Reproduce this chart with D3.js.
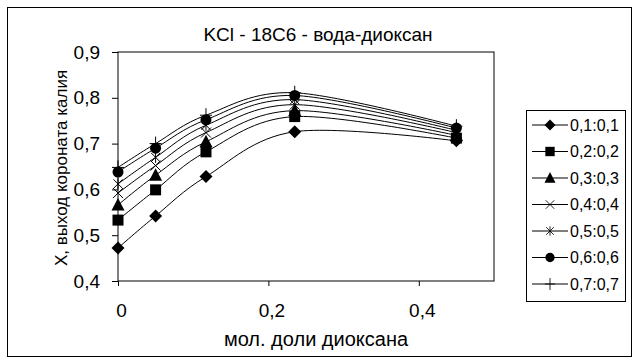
<!DOCTYPE html>
<meta charset="utf-8">
<title>KCl - 18C6</title>
<style>
	body { margin: 0; background: #fff; }
	svg { display: block; font-family: "Liberation Sans", Arial, sans-serif; }
</style>
<svg id="chart"></svg>
<script src="https://cdn.jsdelivr.net/npm/d3@7"></script>
<script>
// mole fraction of dioxane
var xValues = [0, 0.05, 0.117, 0.235, 0.45];
var seriesNames = ["0,1:0,1", "0,2:0,2", "0,3:0,3", "0,4:0,4", "0,5:0,5", "0,6:0,6", "0,7:0,7"];
var s1 = [0.472, 0.542, 0.628, 0.726, 0.706];
var s2 = [0.533, 0.599, 0.682, 0.759, 0.712];
var s3 = [0.566, 0.631, 0.704, 0.772, 0.718];
var s4 = [0.592, 0.652, 0.724, 0.785, 0.724];
var s5 = [0.612, 0.670, 0.740, 0.796, 0.729];
var s6 = [0.638, 0.690, 0.752, 0.805, 0.734];
var s7 = [0.648, 0.700, 0.762, 0.811, 0.738];
var seriesValues = [s1, s2, s3, s4, s5, s6, s7];
var markerTypes = ["diamond", "square", "triangle", "cross", "star", "circle", "plus"];
var xTicks = [0, 0.2, 0.4];
var yTicks = [0.4, 0.5, 0.6, 0.7, 0.8, 0.9];

var width = 638, height = 362;
var svg = d3.select("#chart").attr("width", width).attr("height", height);

var fmt = function(d) { return String(d).replace(".", ","); };

// outer frame
svg.append("rect")
	.attr("x", 7.5).attr("y", 7.5)
	.attr("width", 624).attr("height", 349)
	.attr("fill", "#fff").attr("stroke", "#000").attr("stroke-width", 1);

var x = d3.scaleLinear().domain([0, 0.5]).range([118, 494]);
var y = d3.scaleLinear().domain([0.4, 0.9]).range([281, 52]);

// plot box
svg.append("rect")
	.attr("x", x(0)).attr("y", y(0.9))
	.attr("width", x(0.5) - x(0)).attr("height", y(0.4) - y(0.9))
	.attr("fill", "none").attr("stroke", "#000");

var yAxis = svg.append("g")
	.attr("transform", "translate(" + x(0) + ",0)")
	.call(d3.axisLeft(y).tickValues(yTicks).tickFormat(fmt).tickSize(6).tickPadding(12));
var xAxis = svg.append("g")
	.attr("transform", "translate(0," + y(0.4) + ")")
	.call(d3.axisBottom(x).tickValues(xTicks).tickFormat(fmt).tickSize(5).tickPadding(18));
[xAxis, yAxis].forEach(function(a) {
	a.select(".domain").remove();
	a.selectAll("line").attr("stroke", "#000");
	a.selectAll("text").attr("fill", "#000").attr("font-size", 19).attr("font-family", "Liberation Sans, Arial, sans-serif");
});
xAxis.selectAll("text").attr("dx", 3);

// titles
svg.append("text")
	.attr("x", 318).attr("y", 41)
	.attr("text-anchor", "middle").attr("font-size", 19)
	.text("KCl - 18C6 - вода-диоксан");
svg.append("text")
	.attr("x", 316).attr("y", 346)
	.attr("text-anchor", "middle").attr("font-size", 20)
	.text("мол. доли диоксана");
svg.append("text")
	.attr("transform", "translate(67,168) rotate(-90)")
	.attr("text-anchor", "middle").attr("font-size", 17)
	.text("Х, выход короната калия");

function drawMarker(g, type) {
	if (type === "diamond") {
		g.append("path").attr("d", "M0,-6.5L6.5,0L0,6.5L-6.5,0Z").attr("fill", "#000");
	} else if (type === "square") {
		g.append("rect").attr("x", -5.5).attr("y", -5.5).attr("width", 11).attr("height", 11).attr("fill", "#000");
	} else if (type === "triangle") {
		g.append("path").attr("d", "M0,-7L6.5,5.5L-6.5,5.5Z").attr("fill", "#000");
	} else if (type === "circle") {
		g.append("circle").attr("r", 5.5).attr("fill", "#000");
	} else if (type === "cross") {
		g.append("path").attr("d", "M-5,-5L5,5M-5,5L5,-5").attr("stroke", "#000").attr("fill", "none");
	} else if (type === "star") {
		g.append("path").attr("d", "M-4.5,-4.5L4.5,4.5M-4.5,4.5L4.5,-4.5M0,-5.5L0,5.5").attr("stroke", "#000").attr("fill", "none");
	} else if (type === "plus") {
		g.append("path").attr("d", "M0,-7L0,7M-6,0L6,0").attr("stroke", "#000").attr("fill", "none");
	}
}

var line = d3.line()
	.x(function(d, i) { return x(xValues[i]); })
	.y(function(d) { return y(d); })
	.curve(d3.curveCardinal.tension(0));

var seriesG = svg.append("g");
seriesValues.forEach(function(vals, k) {
	seriesG.append("path")
		.attr("d", line(vals))
		.attr("fill", "none").attr("stroke", "#000").attr("stroke-width", 1);
});
seriesValues.forEach(function(vals, k) {
	vals.forEach(function(v, i) {
		var g = seriesG.append("g").attr("transform", "translate(" + x(xValues[i]) + "," + y(v) + ")");
		drawMarker(g, markerTypes[k]);
	});
});

// legend
var legend = svg.append("g");
legend.append("rect")
	.attr("x", 526.5).attr("y", 110.5).attr("width", 99).attr("height", 191)
	.attr("fill", "#fff").attr("stroke", "#000");
seriesNames.forEach(function(name, k) {
	var ly = 125 + k * 26.5;
	var g = legend.append("g").attr("transform", "translate(0," + ly + ")");
	g.append("line").attr("x1", 532).attr("x2", 568).attr("stroke", "#000");
	var m = g.append("g").attr("transform", "translate(550,0) scale(0.85)");
	drawMarker(m, markerTypes[k]);
	g.append("text").attr("x", 570).attr("y", 5.5).attr("font-size", 16).text(name);
});
</script>
